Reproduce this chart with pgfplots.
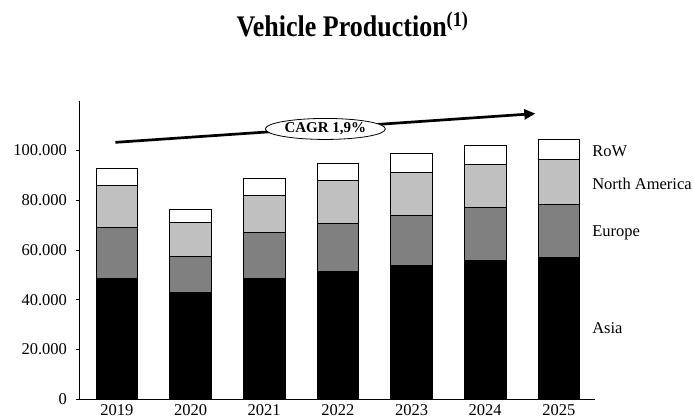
\documentclass[border=0pt]{standalone}
\usepackage{fontspec}
\setmainfont{Liberation Serif}
\usepackage{graphicx}
\usepackage{pgfplots}
\pgfplotsset{compat=1.18}
\usetikzlibrary{arrows.meta,shapes.geometric}
\definecolor{eur}{HTML}{808080}
\definecolor{nam}{HTML}{C0C0C0}
\begin{document}
\begin{tikzpicture}[x=1pt,y=1pt]
\useasboundingbox (0,0) rectangle (693,420);
\begin{axis}[
  at={(79pt,20.7pt)}, anchor=south west,
  scale only axis, width=516pt, height=298.6pt,
  ybar stacked, bar width=41.7pt,
  xmin=-0.514, xmax=6.49, ymin=0, ymax=120000,
  axis x line=bottom, axis y line=left,
  axis line style={-, line width=0.9pt},
  xtick={0,1,2,3,4,5,6},
  xticklabels={2019,2020,2021,2022,2023,2024,2025},
  xtick style={draw=none},
  ytick={0,20000,40000,60000,80000,100000},
  yticklabels={0,20.000,40.000,60.000,80.000,100.000},
  scaled y ticks=false,
  tick align=outside, major tick length=3.5pt,
  ytick style={line width=0.8pt, black},
  /pgf/number format/assume math mode=true,
  ticklabel style={font=\fontsize{16.5}{18}\selectfont},
  xticklabel style={yshift=1.5pt},
  yticklabel style={xshift=-5pt},
  clip=false,
  title={\scalebox{1}[1.15]{Vehicle Production\textsuperscript{(1)}}},
  title style={at={(axis description cs:0.530,1.194)}, anchor=base, yshift=0pt, font=\bfseries\fontsize{26}{30}\selectfont},
]
\addplot[fill=black, draw=black, line width=0.8pt] coordinates {(0,48700) (1,43060) (2,48700) (3,51350) (4,53920) (5,55790) (6,57140)};
\addplot[fill=eur, draw=black, line width=0.8pt] coordinates {(0,20230) (1,14490) (2,18220) (3,19320) (4,19970) (5,21190) (6,21050)};
\addplot[fill=nam, draw=black, line width=0.8pt] coordinates {(0,17030) (1,13680) (2,15170) (3,17180) (4,17180) (5,17310) (6,18110)};
\addplot[fill=white, draw=black, line width=0.8pt] coordinates {(0,7000) (1,5230) (2,6560) (3,7120) (4,7640) (5,7780) (6,8050)};
\coordinate (arrA) at (axis cs:-0.02,103260);
\coordinate (arrB) at (axis cs:5.68,114810);
\coordinate (ell) at (axis cs:2.83,108650);
\node[anchor=west, inner sep=0pt, font=\fontsize{16.5}{18}\selectfont] at (axis cs:6.45,99640) {RoW};
\node[anchor=west, inner sep=0pt, font=\fontsize{16.5}{18}\selectfont] at (axis cs:6.45,86520) {North America};
\node[anchor=west, inner sep=0pt, font=\fontsize{16.5}{18}\selectfont] at (axis cs:6.45,67040) {Europe};
\node[anchor=west, inner sep=0pt, font=\fontsize{16.5}{18}\selectfont] at (axis cs:6.45,28570) {Asia};
\end{axis}
\draw[line width=2.7pt, -{Triangle[length=11pt,width=10pt]}] (arrA) -- (arrB);
\node[ellipse, draw=black, fill=white, line width=0.8pt, minimum width=120pt, minimum height=21pt, inner sep=0pt, font=\bfseries\fontsize{15}{17}\selectfont] at (ell) {CAGR 1,9\%};
\end{tikzpicture}
\end{document}
